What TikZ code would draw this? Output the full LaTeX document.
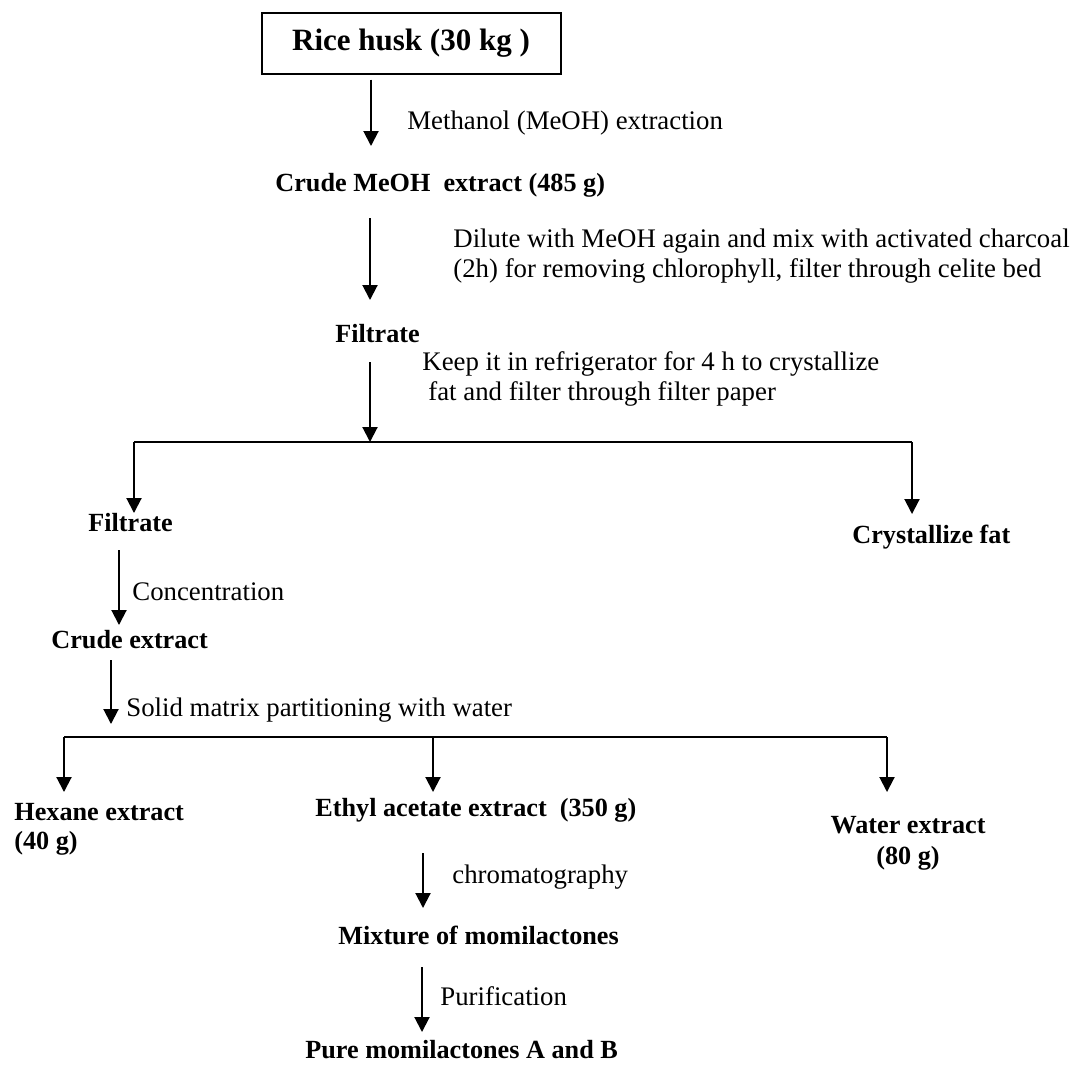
\documentclass[tikz,border=0pt]{standalone}
\usepackage{fontspec}
\setmainfont{Liberation Serif}
\usetikzlibrary{arrows.meta,positioning}

\begin{document}
\begin{tikzpicture}[
    x=0.5pt, y=-0.5pt,
    every node/.style={inner sep=0pt, anchor=base west},
    start/.style={draw, line width=1pt, minimum width=149.5pt, minimum height=30.5pt, anchor=center, font=\fontsize{15.5}{18}\selectfont\bfseries},
    product/.style={font=\fontsize{13.1}{14.7}\selectfont\bfseries},
    note/.style={font=\fontsize{13.4}{14.6}\selectfont, align=left},
    arrow/.style={-{Triangle[length=7.5pt,width=7.5pt]}, line width=1pt},
    branch/.style={line width=1pt}
]
    \useasboundingbox (0,0) rectangle (1074,1067);

    % main line
    \node[start] (rice) at (411,43) {Rice husk (30 kg )};
    \node[note] (meoh) at (407,129) {Methanol (MeOH) extraction};
    \node[product] (crude) at (275,191) {Crude MeOH\ \ extract (485 g)};
    \node[note, anchor=west] (dilute) at (453,256) {Dilute with MeOH again and mix with activated charcoal\\(2h) for removing chlorophyll, filter through celite bed};
    \node[product] (filt) at (335,342) {Filtrate};
    \node[note, anchor=west] (keep) at (422,379) {Keep it in refrigerator for 4 h to crystallize\\\hspace*{3pt}fat and filter through filter paper};

    % first split
    \node[product] (filtb) at (88,531) {Filtrate};
    \node[product] (fat) at (852,543) {Crystallize fat};
    \node[note] (conc) at (132,600) {Concentration};
    \node[product] (crudex) at (51,648) {Crude extract};
    \node[note] (solid) at (126,716) {Solid matrix partitioning with water};

    % second split
    \node[product, align=left, anchor=west] (hex) at (14,829) {Hexane extract\\(40 g)};
    \node[product] (ethyl) at (315,816) {Ethyl acetate extract\ \ (350 g)};
    \node[product, align=center, anchor=center] (water) at (908,843) {Water extract\\[1pt](80 g)};
    \node[note] (chrom) at (452,883) {chromatography};
    \node[product] (mix) at (338,944) {Mixture of momilactones};
    \node[note] (purif) at (440,1005) {Purification};
    \node[product] (pure) at (305,1058) {Pure momilactones A and B};

    % junctions
    \coordinate (sl) at (134,442);
    \coordinate (sm) at (370,442);
    \coordinate (sr) at (912,442);
    \coordinate (tl) at (64,737);
    \coordinate (tm) at (433,737);
    \coordinate (tr) at (887,737);

    \draw[arrow] (rice.south -| 371,0) ++(0,5) -- (371,146);
    \draw[arrow] (370,218) -- (370,300);
    \draw[arrow] (370,362) -- (sm);
    \draw[branch] (sl) -- (sr);
    \draw[arrow] (sl) -- (134,513);
    \draw[arrow] (sr) -- (912,514);
    \draw[arrow] (119,550) -- (119,625);
    \draw[arrow] (111,660) -- (111,724);
    \draw[branch] (tl) -- (tr);
    \draw[arrow] (tl) -- (64,792);
    \draw[arrow] (tm) -- (433,792);
    \draw[arrow] (tr) -- (887,792);
    \draw[arrow] (423,853) -- (423,908);
    \draw[arrow] (422,967) -- (422,1032);
\end{tikzpicture}
\end{document}
